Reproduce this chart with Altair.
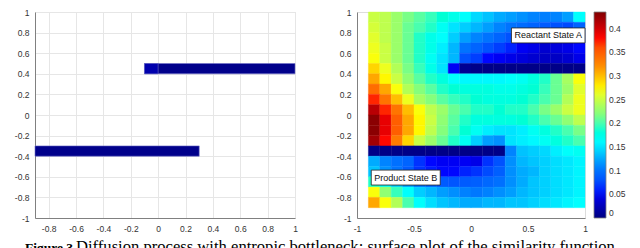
import altair as alt
import pandas as pd

# ---------------- left panel: the two walls (entropic bottleneck) ----------------
bar_x0 = [-0.1, -0.9, -0.1]
bar_x1 = [1.0, 0.3, 0.0]
bar_y0 = [0.4, -0.4, 0.4]
bar_y1 = [0.5, -0.3, 0.5]
bar_part = ["wall", "wall", "edge"]

x_ticks_left = [-0.8, -0.6, -0.4, -0.2, 0, 0.2, 0.4, 0.6, 0.8, 1]
y_ticks = [-1, -0.8, -0.6, -0.4, -0.2, 0, 0.2, 0.4, 0.6, 0.8, 1]
x_ticks_right = [-1, -0.5, 0, 0.5, 1]
cbar_ticks = [0, 0.05, 0.1, 0.15, 0.2, 0.25, 0.3, 0.35, 0.4]

# ---------------- right panel: similarity surface (rows top -> bottom) ----------------
col_left = [-0.9, -0.8, -0.7, -0.6, -0.5, -0.4, -0.3, -0.2, -0.1, 0.0,
            0.1, 0.2, 0.3, 0.4, 0.5, 0.6, 0.7, 0.8, 0.9]
row_top = [1.0, 0.9, 0.8, 0.7, 0.6, 0.5, 0.4, 0.3, 0.2, 0.1,
           0.0, -0.1, -0.2, -0.3, -0.4, -0.5, -0.6, -0.7, -0.8]

similarity = [
    [0.25, 0.245, 0.23, 0.215, 0.205, 0.195, 0.185, 0.175, 0.165, 0.145, 0.135, 0.125, 0.12, 0.115, 0.11, 0.108, 0.11, 0.12, 0.165],
    [0.255, 0.245, 0.23, 0.21, 0.2, 0.19, 0.17, 0.15, 0.14, 0.13, 0.12, 0.11, 0.1, 0.095, 0.09, 0.085, 0.08, 0.075, 0.09],
    [0.26, 0.245, 0.23, 0.21, 0.19, 0.175, 0.165, 0.14, 0.12, 0.11, 0.1, 0.09, 0.08, 0.07, 0.065, 0.06, 0.06, 0.06, 0.07],
    [0.265, 0.25, 0.23, 0.21, 0.19, 0.175, 0.155, 0.13, 0.1, 0.09, 0.08, 0.07, 0.06, 0.05, 0.045, 0.035, 0.04, 0.045, 0.055],
    [0.27, 0.25, 0.23, 0.21, 0.19, 0.17, 0.15, 0.13, 0.08, 0.07, 0.055, 0.05, 0.045, 0.04, 0.035, 0.03, 0.03, 0.035, 0.045],
    [0.29, 0.265, 0.24, 0.215, 0.195, 0.175, 0.15, 0.05, 0.008, 0.004, 0.003, 0.003, 0.003, 0.003, 0.003, 0.003, 0.003, 0.003, 0.003],
    [0.31, 0.275, 0.25, 0.225, 0.205, 0.19, 0.18, 0.165, 0.16, 0.16, 0.16, 0.16, 0.165, 0.17, 0.18, 0.19, 0.21, 0.235, 0.27],
    [0.34, 0.31, 0.27, 0.24, 0.22, 0.205, 0.19, 0.185, 0.18, 0.18, 0.18, 0.175, 0.175, 0.18, 0.185, 0.195, 0.21, 0.23, 0.26],
    [0.375, 0.335, 0.3, 0.265, 0.235, 0.22, 0.205, 0.195, 0.19, 0.185, 0.18, 0.18, 0.18, 0.185, 0.19, 0.2, 0.21, 0.24, 0.265],
    [0.41, 0.375, 0.335, 0.3, 0.27, 0.245, 0.23, 0.21, 0.2, 0.19, 0.19, 0.185, 0.19, 0.19, 0.2, 0.215, 0.23, 0.25, 0.265],
    [0.43, 0.39, 0.35, 0.31, 0.275, 0.25, 0.225, 0.205, 0.19, 0.18, 0.18, 0.18, 0.18, 0.185, 0.19, 0.2, 0.21, 0.225, 0.245],
    [0.43, 0.39, 0.35, 0.31, 0.275, 0.245, 0.22, 0.2, 0.185, 0.17, 0.155, 0.15, 0.15, 0.155, 0.17, 0.18, 0.19, 0.2, 0.215],
    [0.42, 0.38, 0.33, 0.29, 0.25, 0.23, 0.21, 0.19, 0.17, 0.14, 0.12, 0.115, 0.15, 0.155, 0.16, 0.17, 0.18, 0.19, 0.2],
    [0.003, 0.003, 0.003, 0.003, 0.003, 0.003, 0.003, 0.003, 0.003, 0.003, 0.003, 0.003, 0.11, 0.135, 0.14, 0.145, 0.155, 0.165, 0.17],
    [0.125, 0.11, 0.098, 0.09, 0.065, 0.055, 0.05, 0.05, 0.05, 0.045, 0.065, 0.08, 0.114, 0.13, 0.136, 0.141, 0.147, 0.152, 0.158],
    [0.135, 0.115, 0.1, 0.085, 0.065, 0.058, 0.055, 0.055, 0.06, 0.065, 0.076, 0.087, 0.114, 0.125, 0.13, 0.141, 0.147, 0.152, 0.158],
    [0.19, 0.165, 0.14, 0.12, 0.1, 0.09, 0.085, 0.082, 0.085, 0.087, 0.093, 0.098, 0.114, 0.125, 0.136, 0.141, 0.147, 0.152, 0.158],
    [0.27, 0.225, 0.195, 0.165, 0.14, 0.13, 0.12, 0.114, 0.109, 0.103, 0.109, 0.114, 0.12, 0.13, 0.136, 0.141, 0.147, 0.152, 0.158],
    [0.31, 0.27, 0.24, 0.2, 0.165, 0.147, 0.136, 0.13, 0.125, 0.125, 0.13, 0.13, 0.136, 0.136, 0.141, 0.147, 0.152, 0.158, 0.163],
]

ann_label = ["Reactant State A", "Product State B"]
ann_x0 = [0.355, -0.875]
ann_x1 = [1.0, -0.27]
ann_y0 = [0.70, -0.68]
ann_y1 = [0.845, -0.535]

caption_bold = "Figure 3."
caption_rest = "Diffusion process with entropic bottleneck; surface plot of the similarity function"

# ---------------- build tables ----------------
bars = pd.DataFrame({"x0": bar_x0, "x1": bar_x1, "y0": bar_y0, "y1": bar_y1, "part": bar_part})
cells = []
for j, row in enumerate(similarity):
    for i, v in enumerate(row):
        cells.append({"x0": col_left[i], "x1": round(col_left[i] + 0.1, 2),
                      "y1": row_top[j], "y0": round(row_top[j] - 0.1, 2), "v": v})
cells = pd.DataFrame(cells)
ann = pd.DataFrame({"label": ann_label, "x0": ann_x0, "x1": ann_x1, "y0": ann_y0, "y1": ann_y1})
ann["xc"] = (ann["x0"] + ann["x1"]) / 2
ann["yc"] = (ann["y0"] + ann["y1"]) / 2

vmax = 0.435
jet_colors = ["#000080", "#0000ff", "#0080ff", "#00ffff", "#80ff80",
              "#ffff00", "#ff8000", "#ff0000", "#800000"]
jet_domain = [round(vmax * k / 8, 5) for k in range(9)]

FONT = "Liberation Sans"
label_expr = "replace(format(datum.value, '.2~f'), '\u2212', '-')"

def axis(values, pad=6, grid=False):
    return alt.Axis(values=values, title=None, ticks=False, labelPadding=pad, grid=grid,
                    gridColor="#e6e6e6", gridWidth=1, domainColor="#808080",
                    labelExpr=label_expr, labelFont=FONT, labelFontSize=8.5,
                    labelColor="#333333", labelOverlap=False, labelFlush=False)

W, H = 260, 206

lx = alt.X("x0:Q", scale=alt.Scale(domain=[-0.9, 1], nice=False, zero=False),
           axis=axis(x_ticks_left, 6, True))
ly = alt.Y("y0:Q", scale=alt.Scale(domain=[-1, 1], nice=False, zero=False),
           axis=axis(y_ticks, 6, True))
walls = alt.Chart(bars).mark_rect(strokeWidth=0.6, stroke="#7070c8").encode(
    x=lx, x2="x1:Q", y=ly, y2="y1:Q",
    color=alt.Color("part:N", scale=alt.Scale(domain=["wall", "edge"], range=["#00008b", "#0000ad"]),
                    legend=None),
)
cap = pd.DataFrame({"a": [caption_bold], "b": [caption_rest]})
cap_bold = alt.Chart(cap).mark_text(font="Liberation Serif", fontSize=13.5, fontWeight="bold",
                                    align="left", baseline="alphabetic", color="black").encode(
    x=alt.value(-10), y=alt.value(240), text="a:N")
cap_rest = alt.Chart(cap).mark_text(font="Liberation Serif", fontSize=16.6,
                                    align="left", baseline="alphabetic", color="black").encode(
    x=alt.value(41), y=alt.value(240), text="b:N")
left = alt.layer(walls, cap_bold, cap_rest).properties(width=W, height=H)

cscale = alt.Scale(domain=jet_domain, range=jet_colors, clamp=True)
rx = alt.X("x0:Q", scale=alt.Scale(domain=[-1, 1], nice=False, zero=False),
           axis=axis(x_ticks_right, 6))
ry = alt.Y("y0:Q", scale=alt.Scale(domain=[-1, 1], nice=False, zero=False),
           axis=axis(y_ticks, 6))
heat = alt.Chart(cells).mark_rect(strokeWidth=0.4).encode(
    x=rx, x2="x1:Q", y=ry, y2="y1:Q",
    color=alt.Color("v:Q", scale=cscale,
                    legend=alt.Legend(type="gradient", direction="vertical", title=None,
                                      values=cbar_ticks, gradientLength=206, gradientThickness=12,
                                      gradientStrokeColor="#808080", gradientStrokeWidth=0.8,
                                      labelFont=FONT, labelFontSize=8.5, labelColor="#333333",
                                      labelOffset=3, offset=9, padding=0, labelOverlap=False,
                                      labelExpr=label_expr)),
    stroke=alt.Stroke("v:Q", scale=cscale, legend=None),
)
boxes = alt.Chart(ann).mark_rect(fill="white", stroke="#222222", strokeWidth=0.8).encode(
    x=rx, x2="x1:Q", y=ry, y2="y1:Q")
texts = alt.Chart(ann).mark_text(font=FONT, fontSize=9, color="#111111").encode(
    x=alt.X("xc:Q", scale=alt.Scale(domain=[-1, 1], nice=False, zero=False), axis=axis(x_ticks_right, 6)),
    y=alt.Y("yc:Q", scale=alt.Scale(domain=[-1, 1], nice=False, zero=False), axis=axis(y_ticks, 6)),
    text="label:N")
right = alt.layer(heat, boxes, texts).properties(width=228, height=H)

chart = alt.hconcat(left, right, spacing=62, bounds="flush").properties(
    padding={"left": 5, "top": -1, "right": 0, "bottom": 0}
).configure_view(stroke=None).configure_axis(labelOverlap=False).configure(background="white")

chart.save("out.html", embed_options={"renderer": "svg", "actions": False})
